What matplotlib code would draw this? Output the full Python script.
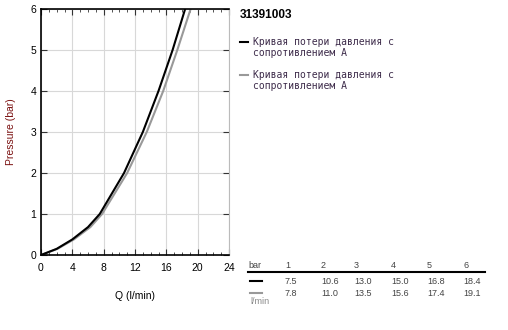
import numpy as np
import matplotlib
matplotlib.use("Agg")
import matplotlib.pyplot as plt
from matplotlib.ticker import MultipleLocator
from matplotlib.lines import Line2D

# values
pressure = [1, 2, 3, 4, 5, 6]
flow_a = [7.5, 10.6, 13.0, 15.0, 16.8, 18.4]
flow_b = [7.8, 11.0, 13.5, 15.6, 17.4, 19.1]
# low-end points
low_p = [0.0, 0.15, 0.38, 0.68]
low_qa = [0.0, 2.0, 4.0, 6.0]
low_qb = [0.0, 2.1, 4.2, 6.3]

title = "31391003"
legend_label = "Кривая потери давления с\nсопротивлением А"

W, H = 508, 330
fig = plt.figure(figsize=(W / 100, H / 100), dpi=100)
plt.rcParams['font.family'] = ['Liberation Sans', 'DejaVu Sans']


def fx(px):
    return px / W


def fy(py):
    return 1 - py / H


ax = fig.add_axes([fx(41), fy(255), fx(229) - fx(41), fy(9) - fy(255)])
ax.plot(low_qb + flow_b, low_p + pressure, color='#999999', lw=1.5)
ax.plot(low_qa + flow_a, low_p + pressure, color='black', lw=1.5)

ax.set_xlim(0, 24)
ax.set_ylim(0, 6)
ax.xaxis.set_major_locator(MultipleLocator(4))
ax.xaxis.set_minor_locator(MultipleLocator(1))
ax.yaxis.set_major_locator(MultipleLocator(1))
ax.grid(True, which='major', color='#d8d8d8', lw=0.8)
ax.tick_params(which='both', direction='in', top=True, right=True, labelsize=7.5, color='#333333')
ax.tick_params(which='major', length=4)
ax.tick_params(which='minor', length=2)
ax.tick_params(axis='x', pad=6)
for s in ['left', 'bottom', 'top']:
    ax.spines[s].set_linewidth(1.2)
ax.spines['right'].set_color('#bbbbbb')
ax.set_xlabel("Q (l/min)", fontsize=7.5, labelpad=13)
ax.set_ylabel("Pressure (bar)", fontsize=7.5, color='#7a1010', labelpad=10)

# title and legend
fig.text(fx(240), fy(15), title, fontsize=8.5, fontweight='bold', va='center', ha='left')
for y0, col in [(42, 'black'), (75, '#999999')]:
    fig.add_artist(Line2D([fx(240), fx(248)], [fy(y0), fy(y0)], color=col, lw=1.5))
    fig.text(fx(253), fy(y0 - 5), legend_label, fontsize=7, family='DejaVu Sans Mono',
             color='#3d2b4a', va='top', ha='left', linespacing=1.15)

# value table
cols_x = [285, 321, 354, 391, 427, 463]
tfs = 6.5
tcol = '#444444'
fig.text(fx(248), fy(266), "bar", fontsize=tfs, color=tcol, va='center')
for x, p in zip(cols_x, pressure):
    fig.text(fx(x), fy(266), str(p), fontsize=tfs, color=tcol, va='center')
fig.add_artist(Line2D([fx(248), fx(485)], [fy(272), fy(272)], color='black', lw=1.5))
for y0, col, vals in [(281, 'black', flow_a), (293, '#999999', flow_b)]:
    fig.add_artist(Line2D([fx(250), fx(262)], [fy(y0), fy(y0)], color=col, lw=1.5))
    for x, v in zip(cols_x, vals):
        fig.text(fx(x), fy(y0), f"{v:.1f}", fontsize=tfs, color=tcol, va='center')
fig.text(fx(250), fy(302), "l/min", fontsize=tfs, color='#888888', va='center')

fig.savefig("out.png", dpi=100)
